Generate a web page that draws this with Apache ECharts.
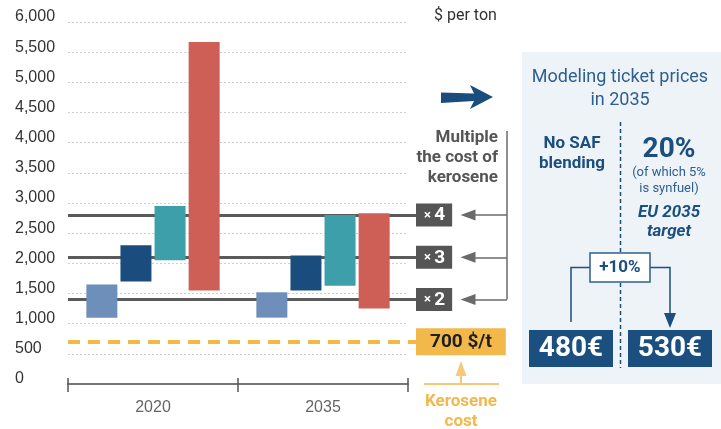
<!DOCTYPE html>
<html>
<head>
<meta charset="utf-8">
<script src="https://cdn.jsdelivr.net/npm/echarts@6/dist/echarts.min.js"></script>
<style>
  html, body { margin: 0; padding: 0; background: #ffffff; }
  #chart { width: 721px; height: 429px; }
</style>
</head>
<body>
<div id="chart"></div>
<script>
// Price ranges in $ per ton, low and high end of each bar
const years = ['2020', '2035'];
const lightBlueLow = [1100, 1100];
const lightBlueHigh = [1650, 1520];
const darkBlueLow = [1700, 1550];
const darkBlueHigh = [2300, 2130];
const tealLow = [2050, 1630];
const tealHigh = [2950, 2800];
const redLow = [1550, 1250];
const redHigh = [5670, 2830];

// Reference levels
const keroseneCost = 700;
const multiples = [2, 3, 4];

// Ticket price panel
const ticketNoBlend = '480€';
const ticketEuTarget = '530€';
const ticketIncrease = '+10%';

// Layout
const GRID_LEFT = 68, GRID_RIGHT_X = 408, GRID_TOP = 22, GRID_BOTTOM_Y = 384;
const BOX_X = 416, BRACKET_X = 507;
const W = 721, H = 429;
const SANS = 'Liberation Sans, Arial, sans-serif';
const NOTE = 'Roboto, Liberation Sans, sans-serif';

const ranges = [
  { name: 'range 1', low: lightBlueLow, high: lightBlueHigh, color: '#6d8fb9' },
  { name: 'range 2', low: darkBlueLow, high: darkBlueHigh, color: '#1a4d7e' },
  { name: 'range 3', low: tealLow, high: tealHigh, color: '#3d9faa' },
  { name: 'range 4', low: redLow, high: redHigh, color: '#cd5f57' }
];

const series = [];
ranges.forEach((r, i) => {
  // invisible base lifts each bar to its low value
  series.push({
    type: 'bar', name: r.name + ' base', stack: 'r' + i, silent: true, z: 3,
    barWidth: 31, barGap: '10%',
    itemStyle: { color: 'rgba(0,0,0,0)' },
    data: r.low
  });
  series.push({
    type: 'bar', name: r.name, stack: 'r' + i, z: 3,
    barWidth: 31, barGap: '10%',
    itemStyle: { color: r.color },
    data: r.high.map((h, j) => h - r.low[j])
  });
});

// Multiples of the kerosene cost: thick grey lines with "× n" tags
series.push({
  type: 'line', data: [], silent: true, clip: false, z: 1,
  markLine: {
    z: 1, silent: true, animation: false, symbol: ['none', 'none'],
    lineStyle: { color: '#5a5a5a', width: 3, type: 'solid' },
    label: {
      show: true, position: 'end', distance: 0,
      backgroundColor: '#555555', padding: [2, 7, 1, 8],
      rich: {
        m: { color: '#ffffff', fontSize: 13, fontWeight: 'bold', fontFamily: NOTE, lineHeight: 20 },
        n: { color: '#ffffff', fontSize: 19, fontWeight: 'bold', fontFamily: NOTE, lineHeight: 20 }
      }
    },
    data: multiples.map(m => [
      { yAxis: m * keroseneCost, x: GRID_LEFT },
      { yAxis: m * keroseneCost, x: BOX_X, label: { formatter: '{m|×} {n|' + m + '}' } }
    ])
  }
});

// Kerosene cost: dashed orange line with value tag
series.push({
  type: 'line', data: [], silent: true, clip: false, z: 1,
  markLine: {
    z: 1, silent: true, animation: false, symbol: ['none', 'none'],
    lineStyle: { color: '#f4b942', width: 4, type: [12, 8] },
    label: {
      show: true, position: 'end', distance: 0,
      backgroundColor: '#f2b94a', color: '#1e1e1e',
      fontFamily: NOTE, fontWeight: 'bold', fontSize: 19, lineHeight: 21,
      padding: [3, 14, 3, 14],
      formatter: keroseneCost + ' $/t'
    },
    data: [[
      { yAxis: keroseneCost, x: GRID_LEFT },
      { yAxis: keroseneCost, x: BOX_X }
    ]]
  }
});

// Bracket arrows pointing at each multiple tag
series.push({
  type: 'line', data: [], silent: true, clip: false, z: 1,
  markLine: {
    z: 1, silent: true, animation: false,
    symbol: ['none', 'triangle'], symbolSize: [11, 15],
    lineStyle: { color: '#6a6a6a', width: 1.5, type: 'solid' },
    label: { show: false },
    data: multiples.map(m => [
      { yAxis: m * keroseneCost, x: BRACKET_X },
      { yAxis: m * keroseneCost, x: 468 }
    ]).concat([[
      { x: BRACKET_X, y: 131, symbol: 'none' },
      { yAxis: multiples[0] * keroseneCost, x: BRACKET_X, symbol: 'none' }
    ]])
  }
});

const option = {
  animation: false,
  backgroundColor: '#ffffff',
  grid: { left: GRID_LEFT, right: W - GRID_RIGHT_X, top: GRID_TOP, bottom: H - GRID_BOTTOM_Y },
  xAxis: [
    {
      type: 'category', data: years, position: 'bottom',
      axisLine: { show: true, lineStyle: { color: '#767676', width: 2 } },
      axisTick: { show: true, interval: 0, length: 8, lineStyle: { color: '#555555', width: 1.5 } },
      axisLabel: { color: '#666666', fontSize: 16, fontFamily: SANS, margin: 16 },
      splitLine: { show: false }
    },
    {
      type: 'category', data: years, position: 'bottom',
      axisLine: { show: false },
      axisTick: { show: true, inside: true, interval: 0, length: 6, lineStyle: { color: '#555555', width: 1.5 } },
      axisLabel: { show: false },
      splitLine: { show: false }
    }
  ],
  yAxis: {
    type: 'value', min: 0, max: 6000, interval: 500,
    axisLine: { show: false },
    axisTick: { show: false },
    axisLabel: {
      color: '#333333', fontSize: 16, fontFamily: SANS,
      align: 'left', margin: 53, verticalAlign: 'bottom', lineHeight: 10,
      formatter: v => v.toLocaleString('en-US')
    },
    splitLine: { show: true, lineStyle: { color: '#cfcfcf', width: 1, type: [2, 2] } }
  },
  series: series,
  graphic: [
    { type: 'text', x: 434, y: 16, style: { text: '$ per ton', fill: '#333333', fontSize: 16, fontFamily: NOTE, align: 'left', verticalAlign: 'middle' } },
    // blue pointer towards the ticket panel
    { type: 'polygon', shape: { points: [[441, 92.5], [474, 93.5], [470, 85], [493, 97], [470, 109], [474, 101], [441, 103]] }, style: { fill: '#1a4d7e' } },
    { type: 'text', x: 498, y: 128, style: { text: 'Multiple\nthe cost of\nkerosene', fill: '#555555', fontSize: 17, fontWeight: 'bold', fontFamily: NOTE, lineHeight: 20, align: 'right', verticalAlign: 'top' } },
    // kerosene cost pointer
    { type: 'line', shape: { x1: 424, y1: 384, x2: 499, y2: 384 }, style: { stroke: '#f5c97a', lineWidth: 2 } },
    { type: 'line', shape: { x1: 461, y1: 372, x2: 461, y2: 384 }, style: { stroke: '#f5c97a', lineWidth: 2 } },
    { type: 'polygon', shape: { points: [[461, 361], [466.5, 376], [455.5, 376]] }, style: { fill: '#f5c97a' } },
    { type: 'text', x: 461, y: 392, style: { text: 'Kerosene\ncost', fill: '#f2b94a', fontSize: 17, fontWeight: 'bold', fontFamily: NOTE, lineHeight: 20, align: 'center', verticalAlign: 'top' } },
    // ticket price panel
    { type: 'rect', z: -10, shape: { x: 522, y: 52, width: 199, height: 332 }, style: { fill: '#eef3f8' } },
    { type: 'text', x: 620, y: 66, style: { text: 'Modeling ticket prices\nin 2035', fill: '#2d5f8f', fontSize: 18, fontFamily: NOTE, lineHeight: 23, align: 'center', verticalAlign: 'top' } },
    { type: 'line', shape: { x1: 620.5, y1: 122, x2: 620.5, y2: 368 }, style: { stroke: '#1b4f80', lineWidth: 1.5, lineDash: [4, 3] } },
    { type: 'text', x: 572, y: 134, style: { text: 'No SAF\nblending', fill: '#1b4f80', fontSize: 17, fontWeight: 'bold', fontFamily: NOTE, lineHeight: 20, align: 'center', verticalAlign: 'top' } },
    { type: 'text', x: 669, y: 150, style: { text: '20%', fill: '#1b4f80', fontSize: 28, fontWeight: 'bold', fontFamily: NOTE, align: 'center', verticalAlign: 'middle' } },
    { type: 'text', x: 669, y: 165, style: { text: '(of which 5%\nis synfuel)', fill: '#2d5f8f', fontSize: 13, fontFamily: NOTE, lineHeight: 16, align: 'center', verticalAlign: 'top' } },
    { type: 'text', x: 669, y: 203, style: { text: 'EU 2035\ntarget', fill: '#1b4f80', fontSize: 17, fontWeight: 'bold', fontStyle: 'italic', fontFamily: NOTE, lineHeight: 19, align: 'center', verticalAlign: 'top' } },
    { type: 'polyline', shape: { points: [[590, 267.5], [571, 267.5], [571, 322]] }, style: { stroke: '#1b4f80', lineWidth: 1.5, fill: 'none' } },
    { type: 'polyline', shape: { points: [[650, 267.5], [670, 267.5], [670, 318]] }, style: { stroke: '#1b4f80', lineWidth: 1.5, fill: 'none' } },
    { type: 'polygon', shape: { points: [[664, 313], [676, 313], [670, 328]] }, style: { fill: '#1b4f80' } },
    { type: 'rect', shape: { x: 590, y: 253, width: 60, height: 29 }, style: { fill: '#ffffff', stroke: '#2d5f8f', lineWidth: 1.5 } },
    { type: 'text', x: 620, y: 268, style: { text: ticketIncrease, fill: '#1b4f80', fontSize: 17, fontWeight: 'bold', fontFamily: NOTE, align: 'center', verticalAlign: 'middle' } },
    { type: 'rect', shape: { x: 529, y: 330, width: 84, height: 37 }, style: { fill: '#1b4f80' } },
    { type: 'text', x: 571, y: 349, style: { text: ticketNoBlend, fill: '#ffffff', fontSize: 28, fontWeight: 'bold', fontFamily: NOTE, align: 'center', verticalAlign: 'middle' } },
    { type: 'rect', shape: { x: 628, y: 330, width: 84, height: 37 }, style: { fill: '#1b4f80' } },
    { type: 'text', x: 670, y: 349, style: { text: ticketEuTarget, fill: '#ffffff', fontSize: 28, fontWeight: 'bold', fontFamily: NOTE, align: 'center', verticalAlign: 'middle' } }
  ]
};

const chart = echarts.init(document.getElementById('chart'), null, { renderer: 'canvas' });
chart.setOption(option);
</script>
</body>
</html>
